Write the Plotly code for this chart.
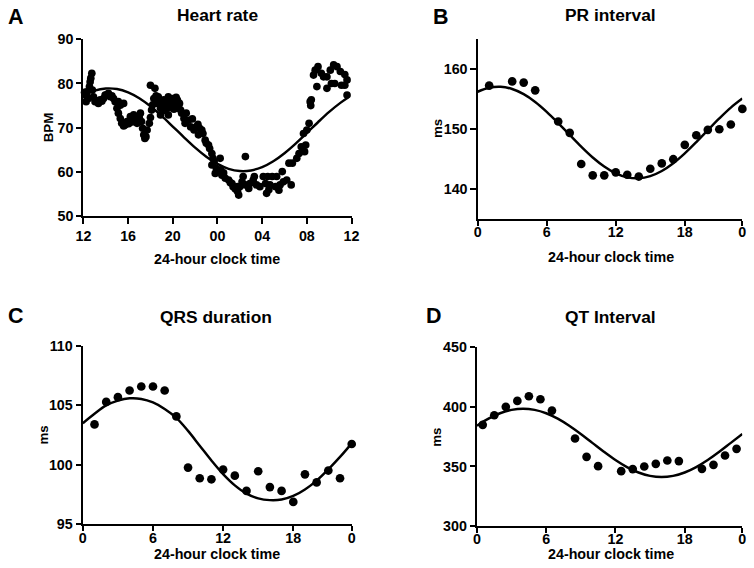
import plotly.graph_objects as go

W, H = 754, 568
# The photographed page shows up scaled into an 8 px border; positions below are
# measured on the reference and mapped to page pixels with these factors.
SX, SY = 770 / 754, 584 / 568


def P(x_ref):
    return x_ref * SX - 8


def Q(y_ref):
    return y_ref * SY - 8


def S(v):
    return v * SX

# ---------------- Panel A: Heart rate (hours after 12:00) ----------------
hr_time = [0.10, 0.15, 0.24, 0.30, 0.40, 0.45, 0.54, 0.60, 0.66, 0.75, 0.80, 0.90, 1.04, 1.20, 1.34,
           1.50, 1.65, 1.80, 1.94, 2.10, 2.24, 2.40, 2.55, 2.70, 2.84, 3.00, 3.13, 3.13, 3.30, 3.30,
           3.43, 3.60, 3.60, 3.73, 3.90, 4.05, 4.20, 4.35, 4.50, 4.60, 4.80, 5.00, 5.10, 5.20, 5.30,
           5.40, 5.50, 5.60, 5.70, 5.90, 6.00, 6.00, 6.10, 6.20, 6.30, 6.40, 6.50, 6.60, 6.70, 6.90,
           6.90, 7.05, 7.20, 7.30, 7.40, 7.60, 7.60, 7.70, 7.80, 8.00, 8.10, 8.20, 8.30, 8.40, 8.45,
           8.50, 8.60, 8.70, 8.80, 9.00, 9.10, 9.20, 9.40, 9.60, 9.75, 9.90, 10.10, 10.25, 10.30, 10.40,
           10.60, 10.70, 10.90, 11.00, 11.20, 11.30, 11.50, 11.50, 11.60, 11.70, 11.80, 11.90, 12.24,
           12.30, 12.40, 12.55, 12.70, 13.00, 13.15, 13.30, 13.40, 13.60, 13.80, 13.80, 13.90, 14.00,
           14.20, 14.30, 14.50, 14.50, 14.80, 14.90, 15.20, 15.30, 15.50, 15.80, 16.10, 16.30, 16.40,
           16.50, 16.60, 16.70, 16.90, 17.20, 17.30, 17.50, 17.60, 17.80, 17.90, 18.20, 18.40, 18.60,
           18.70, 19.10, 19.30, 19.50, 19.70, 19.80, 19.90, 20.00, 20.20, 20.30, 20.35, 20.40, 20.60,
           20.75, 20.90, 21.00, 21.30, 21.50, 21.80, 21.80, 22.10, 22.20, 22.40, 22.50, 22.70, 23.00,
           23.10, 23.40, 23.40, 23.60, 23.60]
hr_bpm = [78.0, 77.4, 75.9, 78.1, 76.8, 76.6, 79.3, 80.4, 81.2, 82.3, 78.5, 77.0, 75.9, 76.1, 75.5,
          76.3, 76.0, 76.6, 77.4, 77.5, 77.8, 77.0, 77.2, 76.6, 75.9, 74.4, 75.9, 73.3, 75.1, 72.1,
          71.0, 75.5, 70.4, 70.6, 71.4, 70.9, 72.5, 71.3, 72.9, 72.1, 71.0, 72.3, 73.3, 71.4, 69.9,
          68.4, 67.6, 68.0, 69.5, 71.0, 72.3, 79.6, 74.0, 75.2, 76.6, 78.9, 77.2, 75.5, 77.0, 74.4,
          72.9, 75.8, 76.3, 73.9, 75.1, 72.9, 77.0, 74.6, 75.9, 76.6, 74.2, 75.1, 76.9, 76.3, 75.9,
          74.8, 75.5, 74.0, 73.3, 72.1, 71.0, 73.3, 71.7, 70.2, 72.0, 69.5, 70.2, 70.8, 68.4, 69.9,
          69.5, 68.7, 67.2, 66.5, 66.1, 65.3, 64.2, 61.6, 63.1, 62.3, 59.7, 60.8, 63.1,
          60.5, 59.3, 59.8, 58.6, 58.2, 57.6, 57.4, 56.7, 56.2, 55.6, 56.7, 54.8, 56.7,
          57.8, 59.0, 63.5, 57.1, 56.3, 57.4, 58.2, 59.0, 57.1, 56.7, 59.0, 57.4, 55.2,
          59.0, 56.0, 57.1, 59.0, 56.7, 59.0, 55.9, 57.1, 60.1, 57.8, 58.2, 62.0, 57.1,
          62.0, 63.1, 64.2, 65.7, 68.7, 64.6, 66.1, 69.5, 71.0, 75.9, 75.0, 76.3, 81.9,
          83.0, 79.3, 83.8, 82.3, 81.5, 81.5, 78.9, 83.0, 80.0, 84.2, 80.0, 83.8, 82.7,
          79.6, 82.0, 79.6, 80.8, 77.4]
hr_fit_time = [0, 1, 2, 3, 4, 5, 6, 7, 8, 9, 10, 11, 12, 13, 14, 15, 16, 17, 18, 19, 20, 21, 22, 23, 23.7]
hr_fit_bpm = [77.25, 78.37, 78.87, 78.74, 77.99, 76.66, 74.84, 72.67, 70.28, 67.85, 65.52, 63.48,
              61.85, 60.73, 60.23, 60.36, 61.11, 62.44, 64.26, 66.43, 68.82, 71.25, 73.58, 75.62, 76.82]
hr_tickvals = [0, 4, 8, 12, 16, 20, 24]
hr_ticktext = ["12", "16", "20", "00", "04", "08", "12"]
hr_yticks = [50, 60, 70, 80, 90]

# ---------------- Shared hourly axis for B, C, D ----------------
fit_hours = [0, 1, 2, 3, 4, 5, 6, 7, 8, 9, 10, 11, 12, 13, 14, 15, 16, 17, 18, 19, 20, 21, 22, 23]
hour_tickvals = [0, 6, 12, 18, 23]
hour_ticktext = ["0", "6", "12", "18", "0"]

# ---------------- Panel B: PR interval ----------------
pr_hour = [1, 3, 4, 5, 7, 8, 9, 10, 11, 12, 13, 14, 15, 16, 17, 18, 19, 20, 21, 22, 23]
pr_ms = [157.3, 158.0, 157.8, 156.5, 151.3, 149.4, 144.2, 142.3, 142.3, 142.8, 142.4, 142.1,
         143.4, 144.3, 145.0, 147.4, 149.0, 149.9, 150.0, 150.8, 153.4]
pr_fit = [156.27, 156.93, 157.09, 156.73, 155.87, 154.57, 152.92, 151.04, 149.05, 147.09, 145.28,
          143.77, 142.63, 141.97, 141.81, 142.17, 143.03, 144.33, 145.98, 147.86, 149.85, 151.81,
          153.62, 155.13]

# ---------------- Panel C: QRS duration ----------------
qrs_hour = [1, 2, 3, 4, 5, 6, 7, 8, 9, 10, 11, 12, 13, 14, 15, 16, 17, 18, 19, 20, 21, 22, 23]
qrs_ms = [103.4, 105.3, 105.7, 106.26, 106.6, 106.6, 106.26, 104.07, 99.75, 98.85, 98.76, 99.58,
          99.07, 97.78, 99.44, 98.1, 97.78, 96.85, 99.18, 98.5, 99.5, 98.85, 101.74]
qrs_fit = [103.5, 104.3, 105.0, 105.4, 105.6, 105.55, 105.25, 104.7, 103.95, 102.85, 101.6, 100.35,
           99.2, 98.25, 97.55, 97.15, 97.0, 97.05, 97.35, 97.9, 98.65, 99.6, 100.65, 101.8]

# ---------------- Panel D: QT interval ----------------
qt_hour = [0.5, 1.5, 2.5, 3.5, 4.5, 5.5, 6.5, 8.5, 9.5, 10.5, 12.5, 13.5, 14.5, 15.5, 16.5, 17.5,
           19.5, 20.5, 21.5, 22.5]
qt_ms = [384.9, 393.0, 400.0, 405.0, 408.9, 406.4, 396.9, 373.5, 358.1, 350.3, 346.1, 347.8, 350.0,
         352.2, 355.0, 354.5, 348.0, 351.4, 359.2, 364.8]
qt_fit = [384.15, 390.1, 394.65, 397.5, 398.5, 397.5, 394.65, 390.1, 384.15, 377.23, 369.8, 362.37,
          355.45, 349.5, 344.95, 342.1, 341.1, 342.1, 344.95, 349.5, 355.45, 362.37, 369.8, 377.23]

FONT = "Arial, Liberation Sans, sans-serif"
BLACK = "#000000"

fig = go.Figure()


def add_panel(idx, xs, ys, fx, fy, msize):
    xa = "x" if idx == 1 else f"x{idx}"
    ya = "y" if idx == 1 else f"y{idx}"
    fig.add_trace(go.Scatter(x=xs, y=ys, mode="markers", xaxis=xa, yaxis=ya,
                             marker=dict(color=BLACK, size=S(msize), line=dict(width=0)),
                             cliponaxis=False, showlegend=False, hoverinfo="skip"))
    fig.add_trace(go.Scatter(x=fx, y=fy, mode="lines", xaxis=xa, yaxis=ya,
                             line=dict(color=BLACK, width=S(2.4), shape="spline", smoothing=1.0),
                             cliponaxis=False, showlegend=False, hoverinfo="skip"))


add_panel(1, hr_time, hr_bpm, hr_fit_time, hr_fit_bpm, 7.5)
add_panel(2, pr_hour, pr_ms, fit_hours, pr_fit, 8.5)
add_panel(3, qrs_hour, qrs_ms, fit_hours, qrs_fit, 8.5)
add_panel(4, qt_hour, qt_ms, fit_hours, qt_fit, 8.5)


def xd(a, b):
    return [P(a) / W, P(b) / W]


def yd(top, bottom):
    return [1 - Q(bottom) / H, 1 - Q(top) / H]


axis_common = dict(showline=True, linecolor=BLACK, linewidth=S(2.2), ticks="outside", ticklen=S(5),
                   tickwidth=S(2), tickcolor=BLACK, showgrid=False, zeroline=False, mirror=False,
                   tickfont=dict(family=FONT, size=S(14), color=BLACK, weight="bold"))

layout_axes = {
    "xaxis": dict(axis_common, domain=xd(83.3, 351.5), range=[0, 24], anchor="y",
                  tickmode="array", tickvals=hr_tickvals, ticktext=hr_ticktext),
    "yaxis": dict(axis_common, domain=yd(39, 216.3), range=[50, 90], anchor="x",
                  tickmode="array", tickvals=hr_yticks),
    "xaxis2": dict(axis_common, domain=xd(477.7, 742.5), range=[0, 23], anchor="y2",
                   tickmode="array", tickvals=hour_tickvals, ticktext=hour_ticktext,
                   ticklabelstandoff=-6),
    "yaxis2": dict(axis_common, domain=yd(39.3, 219), range=[135, 165], anchor="x2",
                   tickmode="array", tickvals=[140, 150, 160]),
    "xaxis3": dict(axis_common, domain=xd(82.7, 351.7), range=[0, 23], anchor="y3",
                   tickmode="array", tickvals=hour_tickvals, ticktext=hour_ticktext,
                   ticklabelstandoff=-5),
    "yaxis3": dict(axis_common, domain=yd(346.3, 524), range=[95, 110], anchor="x3",
                   tickmode="array", tickvals=[95, 100, 105, 110]),
    "xaxis4": dict(axis_common, domain=xd(477, 742.5), range=[0, 23], anchor="y4",
                   tickmode="array", tickvals=hour_tickvals, ticktext=hour_ticktext,
                   ticklabelstandoff=-6),
    "yaxis4": dict(axis_common, domain=yd(347.3, 526.3), range=[300, 450], anchor="x4",
                   tickmode="array", tickvals=[300, 350, 400, 450]),
}

annotations = []


def ann(text, x, y, size, angle=0):
    annotations.append(dict(text=text, x=P(x) / W, y=1 - Q(y) / H, xref="paper", yref="paper",
                            xanchor="center", yanchor="middle", showarrow=False, textangle=angle,
                            font=dict(family=FONT, size=S(size), color=BLACK, weight="bold")))


# panel letters
ann("A", 15.5, 16.5, 21)
ann("B", 441, 16.5, 21)
ann("C", 15.5, 316, 21)
ann("D", 434, 316, 21)
# panel titles
ann("Heart rate", 217.5, 14.5, 17)
ann("PR interval", 610.5, 14.5, 17)
ann("QRS duration", 216, 317, 17)
ann("QT Interval", 610.5, 317, 17)
# x axis titles
ann("24-hour clock time", 217, 259, 14)
ann("24-hour clock time", 611, 257, 14)
ann("24-hour clock time", 217, 554.5, 14)
ann("24-hour clock time", 611.5, 554.5, 14)
# y axis titles
ann("BPM", 48, 128, 13, angle=-90)
ann("ms", 437, 128, 13, angle=-90)
ann("ms", 43, 435.5, 13, angle=-90)
ann("ms", 437, 437, 13, angle=-90)

fig.update_layout(width=W, height=H, margin=dict(l=0, r=0, t=0, b=0),
                  paper_bgcolor="white", plot_bgcolor="white",
                  annotations=annotations, showlegend=False, **layout_axes)

fig.write_html("out.html", config={"displayModeBar": False},
               post_script="document.body.style.margin='0';")
